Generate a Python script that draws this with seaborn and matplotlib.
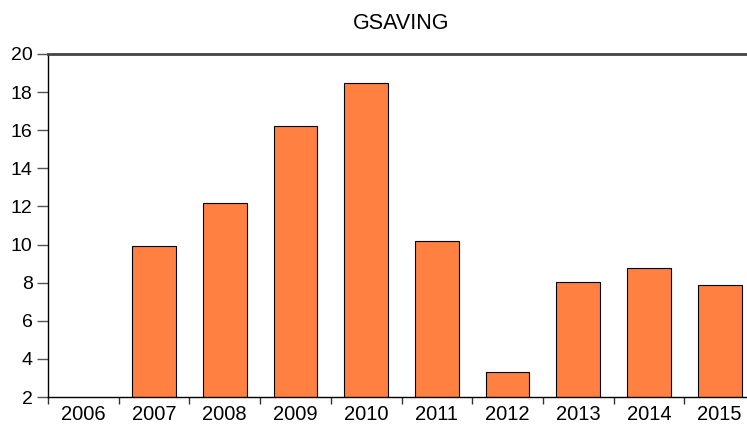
import numpy as np
import pandas as pd
import seaborn as sns
import matplotlib
matplotlib.use("Agg")
import matplotlib.pyplot as plt

years = ["2006", "2007", "2008", "2009", "2010", "2011", "2012", "2013", "2014", "2015"]
gsaving = [np.nan, 9.9, 12.2, 16.2, 18.5, 10.2, 3.3, 8.05, 8.77, 7.88]
y_ticks = [2, 4, 6, 8, 10, 12, 14, 16, 18, 20]

sns.set_style("white")
plt.rcParams['font.family'] = ['Liberation Sans', 'DejaVu Sans']
plt.rcParams['text.color'] = 'black'
plt.rcParams['xtick.color'] = 'black'
plt.rcParams['ytick.color'] = 'black'

df = pd.DataFrame({"year": years, "value": gsaving})

fig = plt.figure(figsize=(7.47, 4.25), dpi=100)
ax = fig.add_axes([48/747, 1-397/425, (755-48)/747, (397-54)/425])

sns.barplot(data=df, x="year", y="value", ax=ax, color="#FF8040",
            saturation=1, width=0.62, edgecolor="black", linewidth=0.8)

ax.set_ylim(2, 20)
ax.set_xlim(-0.5, len(years) - 0.5)
ax.set_yticks(y_ticks)
ax.set_yticklabels([str(t) for t in y_ticks], fontsize=14)

pos = np.arange(len(years))
ax.set_xticks(pos - 0.5)
ax.set_xticklabels([])
ax.set_xticks(pos, minor=True)
ax.set_xticklabels(years, minor=True, fontsize=14.5)
ax.tick_params(axis='x', which='major', direction='out', length=5, width=1, color='#333333', bottom=True)
ax.tick_params(axis='x', which='minor', length=0, pad=6, bottom=True, labelcolor='black')
ax.tick_params(axis='y', direction='out', length=8, width=1, color='#555555', left=True, pad=3, labelcolor='black')

ax.set_xlabel("")
ax.set_ylabel("")
ax.set_title("GSAVING", fontsize=15.5, pad=18, color='black')

for s in ["left", "bottom"]:
    ax.spines[s].set_visible(True)
    ax.spines[s].set_color("black")
    ax.spines[s].set_linewidth(1.0)
ax.spines["top"].set_visible(True)
ax.spines["top"].set_color("#444444")
ax.spines["top"].set_linewidth(2.0)
ax.spines["right"].set_visible(False)

fig.savefig("out.png", dpi=100)
